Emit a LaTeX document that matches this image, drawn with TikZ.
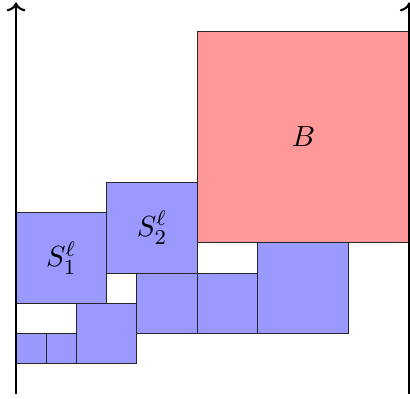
\documentclass[tikz,border=0pt]{standalone}
\usepackage{amsmath,amssymb}
\usepackage{tikz}
\usetikzlibrary{arrows.meta,positioning,calc}
\definecolor{itemblue}{RGB}{153,153,255}
\definecolor{bigred}{RGB}{255,153,153}

\begin{document}
\begin{tikzpicture}[x=0.4cm, y=0.4cm, font=\fontsize{11}{13}\selectfont,
    item/.style={draw=black!85, fill=itemblue, inner sep=0pt},
    big/.style={draw=black!85, fill=bigred, inner sep=0pt},
    axis/.style={thick, ->}]
\useasboundingbox (-0.53,-1.14) rectangle (13.03,12.03);
% strip borders
\coordinate (l0) at (0,-1);
\coordinate (l1) at (0,11.95);
\coordinate (r0) at (13,-1);
\coordinate (r1) at (13,11.95);
% packed items
\draw[item] (0,0) rectangle (1,1);
\draw[item] (1,0) rectangle (2,1);
\draw[item] (2,0) rectangle (4,2);
\draw[item] (0,2) rectangle (3,5) node[midway] (s1) {$S^{\ell}_1$};
\draw[item] (4,1) rectangle (6,3);
\draw[item] (6,1) rectangle (8,3);
\draw[item] (8,1) rectangle (11,4);
\draw[item] (3,3) rectangle (6,6) node[midway] (s2) {$S^{\ell}_2$};
\draw[big] (6,4) rectangle (13,11) node[midway] (b) {$B$};
% axes
\draw[axis] (l0) -- (l1);
\draw[axis] (r0) -- (r1);
\end{tikzpicture}
\end{document}
